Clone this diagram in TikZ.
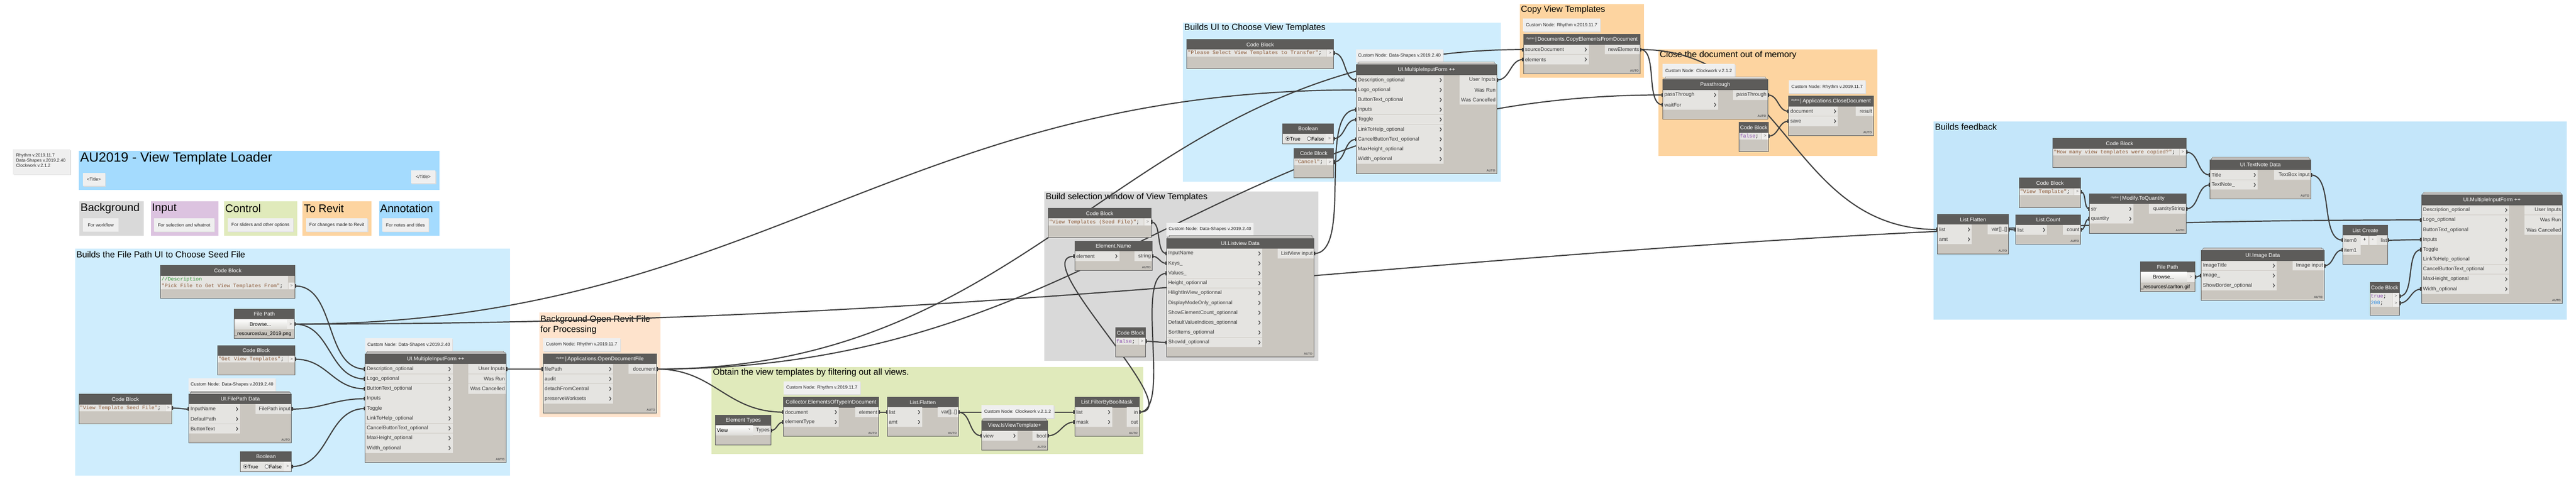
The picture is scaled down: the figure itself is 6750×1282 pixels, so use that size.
\documentclass[tikz,border=0pt]{standalone}
\usepackage{fontspec}
\setmainfont{Liberation Sans}
\setmonofont{Liberation Mono}
\usetikzlibrary{calc}
\definecolor{hdr}{HTML}{5D5C5A}
\definecolor{body}{HTML}{CAC6BF}
\definecolor{row}{HTML}{E5E4E1}
\definecolor{outcell}{HTML}{EDECEA}
\definecolor{rowsep}{HTML}{CFCBC5}
\definecolor{bord}{HTML}{5A5A5A}
\definecolor{wirec}{HTML}{3F3F3F}
\definecolor{notec}{HTML}{EFEFEF}
\definecolor{btnlow}{HTML}{DCDBD7}
\definecolor{gblue}{HTML}{CFEDFD}
\definecolor{gblue2}{HTML}{C4E6FA}
\definecolor{tblue}{HTML}{A4DBFE}
\definecolor{ggray}{HTML}{D9D9D9}
\definecolor{ggreen}{HTML}{E0EABB}
\definecolor{gorange}{HTML}{FDD4A0}
\definecolor{gpeach}{HTML}{FEE3CC}
\definecolor{gpurple}{HTML}{DCC3E0}
\definecolor{strc}{HTML}{8C5B3A}
\definecolor{kwc}{HTML}{8B4FB0}
\definecolor{numc}{HTML}{2E8BE0}
\definecolor{cmtc}{HTML}{2E9A36}
\pgfdeclarelayer{grp}
\pgfdeclarelayer{wires}
\pgfsetlayers{grp,wires,main}
\newcommand\myfs[1]{\fontsize{#1}{#1}\selectfont}
\newcommand\rh{{\myfs{7}\raisebox{4pt}{rhythm}}\,|\,}
\tikzset{
  hdrtext/.style={text=white,font=\myfs{14},inner sep=0},
  lbl/.style={text=black!78,font=\myfs{13.5},inner sep=0},
  autot/.style={text=black!65,font=\myfs{8}\bfseries,inner sep=0},
  codet/.style={font=\ttfamily\myfs{13.6},inner sep=0},
  gtxt/.style={text=black!60,font=\myfs{11},inner sep=0},
  notet/.style={text=black!85,font=\myfs{12},inner sep=0,align=left},
  grpt/.style={text=black,font=\myfs{23},inner sep=0},
  legt/.style={text=black,font=\myfs{29},inner sep=0},
  chev/.style={draw=black!70,line width=1.8},
  wirel/.style={draw=wirec,line width=3},
}
% header + body
\newcommand\dbox[6]{%
  \fill[body] (#2,#3) rectangle (#4,#5);
  \fill[hdr] (#2,#3) rectangle (#4,#3+27);
  \node[hdrtext] (#1) at ({(#2+#4)/2},#3+13.5) {#6};
}
\newcommand\dstack[3]{%
  \draw[draw=black!45,fill=body!60!white,line width=0.8] (#1+6,#2-7) rectangle (#3-6,#2);
  \draw[draw=black!45,fill=body!60!white,line width=0.8] (#1+3,#2-4) rectangle (#3-3,#2);
}
\newcommand\dins[5]{%
  \foreach \lab [count=\i] in {#5} {
    \pgfmathsetmacro\ya{#4+(\i-1)*25.9}
    \fill[row] (#2,\ya) rectangle (#3,\ya+25.9);
    \draw[rowsep,line width=1] (#2,\ya+25.9) -- (#3,\ya+25.9);
    \node[lbl,anchor=west] at (#2+4,\ya+12.95) {\lab};
    \draw[chev] (#3-10,\ya+8) -- (#3-6,\ya+12.95) -- (#3-10,\ya+17.9);
    \coordinate (#1-i\i) at (#2,\ya+12.95);
  }}
\newcommand\douts[5]{%
  \foreach \lab [count=\i] in {#5} {
    \pgfmathsetmacro\ya{#4+(\i-1)*25.9}
    \fill[row] (#2,\ya) rectangle (#3,\ya+25.9);
    \draw[rowsep,line width=1] (#2,\ya+25.9) -- (#3,\ya+25.9);
    \node[lbl,anchor=east] at (#3-3,\ya+12.95) {\lab};
    \coordinate (#1-o\i) at (#3,\ya+12.95);
  }}
\newcommand\dauto[4]{%
  \draw[bord,line width=1.2] (#1,#2) rectangle (#3,#4);
  \node[autot,anchor=south east] at (#3-4,#4-5) {AUTO};
}
\newcommand\dclose[4]{\draw[bord,line width=1.2] (#1,#2) rectangle (#3,#4);}
% code block
\newcommand\dcode[6]{%
  \dbox{#1}{#2}{#3}{#4}{#5}{Code Block}
  \foreach \cl [count=\i] in {#6} {
    \pgfmathsetmacro\ya{#3+27+(\i-1)*18}
    \fill[row] (#2,\ya) rectangle (#4-18,\ya+18);
    \fill[outcell] (#4-18,\ya) rectangle (#4,\ya+18);
    \draw[rowsep,line width=1] (#4-18,\ya) -- (#4-18,\ya+18);
    \node[codet,anchor=west] at (#2+2,\ya+9.4) {\cl};
    \node[gtxt] at (#4-9,\ya+9) {>};
    \coordinate (#1-o\i) at (#4,\ya+9);
  }
  \dclose{#2}{#3}{#4}{#5}
}
% file path
\newcommand\dfile[5]{%
  \dbox{#1}{#2}{#3}{#4}{#3+78}{File Path}
  \shade[top color=white,bottom color=btnlow] (#2,#3+27) rectangle (#4-20,#3+53);
  \fill[outcell] (#4-20,#3+27) rectangle (#4,#3+53);
  \node[lbl,text=black] at ({(#2+#4-20)/2},#3+40) {Browse...};
  \node[gtxt] at (#4-10,#3+40) {>};
  \node[lbl,text=black,anchor=west] at (#2+1,#3+65.5) {#5};
  \dclose{#2}{#3}{#4}{#3+78}
  \coordinate (#1-o1) at (#4,#3+40);
}
% boolean
\newcommand\dbool[4]{%
  \dbox{#1}{#2}{#3}{#4}{#3+53}{Boolean}
  \fill[row] (#2,#3+27) rectangle (#4-20,#3+52);
  \fill[outcell] (#4-20,#3+27) rectangle (#4,#3+52);
  \draw[fill=white,draw=black!80,line width=0.8] (#2+13,#3+39.5) circle[radius=5];
  \fill[black] (#2+13,#3+39.5) circle[radius=2.5];
  \node[lbl,text=black,anchor=west] at (#2+19,#3+40) {True};
  \draw[fill=white,draw=black!80,line width=0.8] (#2+69,#3+39.5) circle[radius=5];
  \node[lbl,text=black,anchor=west] at (#2+75,#3+40) {False};
  \node[gtxt] at (#4-10,#3+39.5) {>};
  \dclose{#2}{#3}{#4}{#3+53}
  \coordinate (#1-o1) at (#4,#3+39.5);
}
% note
\newcommand\dnote[6]{%
  \fill[black!14] (#2+2,#3+2.5) rectangle (#4+2,#5+2.5);
  \fill[notec] (#2,#3) rectangle (#4,#5);
  \node[notet] (#1) at ({(#2+#4)/2},{(#3+#5)/2}) {#6};
}
\newcommand\gtitle[3]{%
  \begin{pgfonlayer}{grp}
  \node[grpt,anchor=west] at (#1,#2) {#3};
  \end{pgfonlayer}}
% wire
\newcommand\wire[2]{%
  \begin{pgfonlayer}{wires}
  \draw[wirel] let \p1=(#1), \p2=(#2),
     \n1={0.4*(abs(\x2-\x1)+0.4*abs(\y2-\y1))} in
     (\p1) .. controls +(\n1,0) and +(-\n1,0) .. (\p2);
  \end{pgfonlayer}
  \fill[wirec] ($(#1)+(0,-5)$) rectangle ($(#1)+(3.5,5)$);
  \fill[wirec] ($(#2)+(-3.5,-5)$) rectangle ($(#2)+(0,5)$);
}
\begin{document}
\begin{tikzpicture}[x=1pt,y=-1pt]
\useasboundingbox (0,0) rectangle (6750,1282);
\begin{pgfonlayer}{grp}
\fill[white] (0,0) rectangle (6750,1282);
\end{pgfonlayer}

% ---------- header area ----------
\fill[black!12] (36,394) rectangle (186,459);
\fill[notec] (34,392) rectangle (184,457);
\node[notet,anchor=north west,font=\myfs{11.5},align=left] (ver) at (42,402) {Rhythm v.2019.11.7\\[2pt]Data-Shapes v.2019.2.40\\[2pt]Clockwork v.2.1.2};

\begin{pgfonlayer}{grp}
\fill[tblue] (207,395) rectangle (1151,498);
\node[text=black,font=\myfs{35},inner sep=0,anchor=west] (ttl) at (210,416) {AU2019 - View Template Loader};
\fill[ggray] (208,528) rectangle (377,618);
\fill[gpurple] (395,528) rectangle (572,618);
\fill[ggreen] (587,528) rectangle (779,618);
\fill[gorange] (793,528) rectangle (974,618);
\fill[tblue] (993,528) rectangle (1151,618);
\node[legt,anchor=west] (l1) at (211,547) {Background};
\node[legt,anchor=west] (l2) at (398,547) {Input};
\node[legt,anchor=west] (l3) at (590,547) {Control};
\node[legt,anchor=west] (l4) at (796,547) {To Revit};
\node[legt,anchor=west] (l5) at (996,547) {Annotation};
\end{pgfonlayer}
\dnote{t1}{217}{453}{275}{487}{<Title>}
\dnote{t2}{1077}{447}{1141}{481}{</Title>}
\dnote{ln1}{218}{573}{310}{607}{For workflow}
\dnote{ln2}{404}{573}{561}{607}{For selection and whatnot}
\dnote{ln3}{597}{573}{768}{607}{For sliders and other options}
\dnote{ln4}{802}{573}{963}{607}{For changes made to Revit}
\dnote{ln5}{1002}{573}{1123}{607}{For notes and titles}

% ---------- groups ----------
\begin{pgfonlayer}{grp}
\fill[gblue] (197,652) rectangle (1337,1247);
\fill[gpeach] (1413,820) rectangle (1731,1093);
\fill[ggreen] (1865,963) rectangle (2996,1191);
\fill[ggray] (2737,502) rectangle (3454,947);
\fill[gblue] (3100,59) rectangle (3933,477);
\fill[gorange] (3982,11) rectangle (4308,204);
\fill[gorange] (4346,130) rectangle (4920,409);
\fill[gblue2] (5067,318) rectangle (6725,838);
\end{pgfonlayer}
\gtitle{200}{667}{Builds the File Path UI to Choose Seed File}
\gtitle{1416}{838}{Background Open Revit File}
\gtitle{1416}{865}{for Processing}
\gtitle{1868}{977}{Obtain the view templates by filtering out all views.}
\gtitle{2740}{517}{Build selection window of View Templates}
\gtitle{3103}{73}{Builds UI to Choose View Templates}
\gtitle{3985}{26}{Copy View Templates}
\gtitle{4349}{145}{Close the document out of memory}
\gtitle{5070}{332}{Builds feedback}

% ---------- group 1 ----------
\dcode{cbdesc}{421}{696}{773}{782}{{\textcolor{cmtc}{//Description}},{\textcolor{strc}{"Pick File to Get View Templates From"};}}
\fill[body] (755,723) rectangle (773,741);
\draw[bord,line width=1.2] (773,696) -- (773,782);
\dfile{fpa}{613}{810}{772}{\_resources\textbackslash au\_2019.png}
\dcode{cbget}{570}{906}{773}{983}{{\textcolor{strc}{"Get View Templates"};}}
\dnote{n1}{957}{887}{1185}{922}{Custom Node: Data-Shapes v.2019.2.40}
\dstack{957}{928}{1326}
\dbox{mifa}{957}{928}{1326}{1213}{UI.MultipleInputForm ++}
\dins{mifa}{957}{1186}{955}{Description\_optional,Logo\_optional,ButtonText\_optional,Inputs,Toggle,LinkToHelp\_optional,CancelButtonText\_optional,MaxHeight\_optional,Width\_optional}
\douts{mifa}{1227}{1326}{955}{User Inputs,Was Run,Was Cancelled}
\dauto{957}{928}{1326}{1213}
\dcode{cbseed}{207}{1034}{450}{1111}{{\textcolor{strc}{"View Template Seed File"};}}
\dnote{n2}{494}{992}{722}{1026}{Custom Node: Data-Shapes v.2019.2.40}
\dstack{495}{1033}{764}
\dbox{fpd}{495}{1033}{764}{1162}{UI.FilePath Data}
\dins{fpd}{495}{629}{1060}{InputName,DefaulPath,ButtonText}
\douts{fpd}{670}{764}{1060}{FilePath input}
\dauto{495}{1033}{764}{1162}
\dbool{boola}{630}{1184}{764}

% ---------- group 2 ----------
\dnote{n3}{1423}{887}{1625}{921}{Custom Node: Rhythm v.2019.11.7}
\dbox{odf}{1423}{928}{1721}{1083}{\rh Applications.OpenDocumentFile}
\dins{odf}{1423}{1607}{955}{filePath,audit,detachFromCentral,preserveWorksets}
\douts{odf}{1647}{1721}{955}{document}
\dauto{1423}{928}{1721}{1083}

% ---------- group 3 ----------
\dnote{n4}{2053}{1000}{2254}{1034}{Custom Node: Rhythm v.2019.11.7}
\dbox{coll}{2053}{1042}{2302}{1144}{Collector.ElementsOfTypeInDocument}
\dins{coll}{2053}{2198}{1068}{document,elementType}
\douts{coll}{2241}{2302}{1068}{element}
\dauto{2053}{1042}{2302}{1144}
\dbox{etypes}{1875}{1089}{2020}{1167}{Element Types}
\shade[top color=white,bottom color=btnlow] (1875,1116) rectangle (1973,1141);
\node[lbl,text=black,anchor=west] at (1878,1129) {View};
\node[gtxt,font=\myfs{8}] at (1964,1126) {v};
\fill[row] (1973,1116) rectangle (2020,1141);
\node[lbl,anchor=east] at (2017,1129) {Types};
\coordinate (etypes-o1) at (2020,1129);
\dclose{1875}{1089}{2020}{1167}
\dbox{flata}{2325}{1042}{2511}{1144}{List.Flatten}
\dins{flata}{2325}{2416}{1068}{list,amt}
\douts{flata}{2457}{2511}{1068}{{var[]..[]}}
\dauto{2325}{1042}{2511}{1144}
\dnote{n5}{2572}{1062}{2761}{1096}{Custom Node: Clockwork v.2.1.2}
\dstack{2572}{1103}{2745}
\dbox{isvt}{2572}{1103}{2745}{1180}{View.IsViewTemplate+}
\dins{isvt}{2572}{2666}{1130}{view}
\douts{isvt}{2706}{2745}{1130}{bool}
\dauto{2572}{1103}{2745}{1180}
\dbox{fbm}{2816}{1042}{2985}{1144}{List.FilterByBoolMask}
\dins{fbm}{2816}{2914}{1068}{list,mask}
\douts{fbm}{2953}{2985}{1068}{in,out}
\dauto{2816}{1042}{2985}{1144}

% ---------- group 4 ----------
\dcode{cbvt}{2747}{546}{3016}{623}{{\textcolor{strc}{"View Templates (Seed File)"};}}
\dnote{n6}{3056}{584}{3285}{618}{Custom Node: Data-Shapes v.2019.2.40}
\dstack{3057}{625}{3443}
\dbox{lvd}{3057}{625}{3443}{936}{UI.Listview Data}
\dins{lvd}{3057}{3308}{652}{InputName,Keys\_,Values\_,Height\_optionnal,HilightInView\_optionnal,DisplayModeOnly\_optionnal,ShowElementCount\_optionnal,DefaultValueIndices\_optionnal,SortItems\_optionnal,ShowId\_optionnal}
\douts{lvd}{3348}{3443}{652}{ListView input}
\dauto{3057}{625}{3443}{936}
\dbox{ename}{2816}{632}{3019}{709}{Element.Name}
\dins{ename}{2816}{2933}{659}{element}
\douts{ename}{2973}{3019}{659}{string}
\dauto{2816}{632}{3019}{709}
\dcode{cbfa}{2923}{859}{3002}{936}{{\textcolor{kwc}{false};}}

% ---------- group 5 ----------
\dcode{cbsel}{3110}{103}{3494}{180}{{\textcolor{strc}{"Please Select View Templates to Transfer"};}}
\dnote{n7}{3553}{130}{3781}{163}{Custom Node: Data-Shapes v.2019.2.40}
\dstack{3554}{170}{3922}
\dbox{mifb}{3554}{170}{3922}{455}{UI.MultipleInputForm ++}
\dins{mifb}{3554}{3783}{197}{Description\_optional,Logo\_optional,ButtonText\_optional,Inputs,Toggle,LinkToHelp\_optional,CancelButtonText\_optional,MaxHeight\_optional,Width\_optional}
\douts{mifb}{3824}{3922}{197}{User Inputs,Was Run,Was Cancelled}
\dauto{3554}{170}{3922}{455}
\dbool{boolb}{3361}{324}{3494}
\dcode{cbcan}{3391}{389}{3494}{466}{{\textcolor{strc}{"Cancel"};}}

% ---------- group 6 / 7 ----------
\dnote{n8}{3991}{49}{4193}{83}{Custom Node: Rhythm v.2019.11.7}
\dbox{copy}{3992}{90}{4298}{194}{\rh Documents.CopyElementsFromDocument}
\dins{copy}{3992}{4163}{117}{sourceDocument,elements}
\douts{copy}{4205}{4298}{117}{newElements}
\dauto{3992}{90}{4298}{194}
\dnote{n9}{4356}{168}{4546}{202}{Custom Node: Clockwork v.2.1.2}
\dstack{4357}{209}{4632}
\dbox{pass}{4357}{209}{4632}{312}{Passthrough}
\dins{pass}{4357}{4502}{236}{passThrough,waitFor}
\douts{pass}{4542}{4632}{236}{passThrough}
\dauto{4357}{209}{4632}{312}
\dnote{n10}{4687}{211}{4888}{245}{Custom Node: Rhythm v.2019.11.7}
\dbox{close}{4687}{252}{4909}{355}{\rh Applications.CloseDocument}
\dins{close}{4687}{4816}{279}{document,save}
\douts{close}{4863}{4909}{279}{result}
\dauto{4687}{252}{4909}{355}
\dcode{cbfb}{4557}{321}{4634}{398}{{\textcolor{kwc}{false};}}

% ---------- group 8 ----------
\dcode{cbhow}{5379}{363}{5729}{440}{{\textcolor{strc}{"How many view templates were copied?"};}}
\dstack{5791}{419}{6055}
\dbox{tnd}{5791}{419}{6055}{522}{UI.TextNote Data}
\dins{tnd}{5791}{5916}{446}{Title,TextNote\_}
\douts{tnd}{5959}{6055}{446}{TextBox input}
\dauto{5791}{419}{6055}{522}
\dcode{cbvtq}{5291}{467}{5452}{544}{{\textcolor{strc}{"View Template"};}}
\dbox{toq}{5475}{508}{5728}{612}{\rh Modify.ToQuantity}
\dins{toq}{5475}{5590}{535}{str,quantity}
\douts{toq}{5631}{5728}{535}{quantityString}
\dauto{5475}{508}{5728}{612}
\dbox{flatb}{5077}{562}{5263}{666}{List.Flatten}
\dins{flatb}{5077}{5167}{589}{list,amt}
\douts{flatb}{5208}{5263}{589}{{var[]..[]}}
\dauto{5077}{562}{5263}{666}
\dbox{cnt}{5282}{563}{5452}{640}{List.Count}
\dins{cnt}{5282}{5364}{590}{list}
\douts{cnt}{5405}{5452}{590}{count}
\dauto{5282}{563}{5452}{640}
\dfile{fpb}{5608}{687}{5751}{\_resources\textbackslash carlton.gif}
\dstack{5768}{657}{6090}
\dbox{imgd}{5768}{657}{6090}{787}{UI.Image Data}
\dins{imgd}{5768}{5966}{684}{ImageTitle,Image\_,ShowBorder\_optional}
\douts{imgd}{6007}{6090}{684}{Image input}
\dauto{5768}{657}{6090}{787}
\dbox{lc}{6139}{591}{6257}{693}{List Create}
\fill[row] (6139,617) rectangle (6185,643);
\node[lbl,anchor=west] at (6142,630) {item0};
\fill[outcell] (6186,618) rectangle (6206,642);
\node[lbl,text=black] at (6196,629) {+};
\fill[outcell] (6208,618) rectangle (6227,642);
\node[lbl,text=black] at (6217.5,629) {-};
\fill[row] (6228,617) rectangle (6257,643);
\node[lbl,anchor=east] at (6255,630) {list};
\fill[row] (6139,643) rectangle (6185,668);
\node[lbl,anchor=west] at (6142,655.5) {item1};
\coordinate (lc-i1) at (6139,630);
\coordinate (lc-i2) at (6139,655.5);
\coordinate (lc-o1) at (6257,630);
\dclose{6139}{591}{6257}{693}
\dcode{cbtf}{6210}{741}{6287}{827}{{\textcolor{kwc}{true};},{\textcolor{numc}{200};}}
\dstack{6345}{511}{6714}
\dbox{mifc}{6345}{511}{6714}{796}{UI.MultipleInputForm ++}
\dins{mifc}{6345}{6575}{538}{Description\_optional,Logo\_optional,ButtonText\_optional,Inputs,Toggle,LinkToHelp\_optional,CancelButtonText\_optional,MaxHeight\_optional,Width\_optional}
\douts{mifc}{6615}{6714}{538}{User Inputs,Was Run,Was Cancelled}
\dauto{6345}{511}{6714}{796}

% ---------- wires ----------
\wire{cbdesc-o2}{mifa-i1}
\wire{fpa-o1}{mifa-i2}
\wire{cbget-o1}{mifa-i3}
\wire{fpd-o1}{mifa-i4}
\wire{boola-o1}{mifa-i5}
\wire{cbseed-o1}{fpd-i1}
\wire{mifa-o1}{odf-i1}
\wire{odf-o1}{coll-i1}
\wire{etypes-o1}{coll-i2}
\wire{coll-o1}{flata-i1}
\wire{flata-o1}{fbm-i1}
\wire{flata-o1}{isvt-i1}
\wire{isvt-o1}{fbm-i2}
\wire{cbvt-o1}{lvd-i1}
\wire{ename-o1}{lvd-i2}
\wire{fbm-o1}{lvd-i3}
\wire{fbm-o1}{ename-i1}
\wire{cbfa-o1}{lvd-i10}
\wire{cbsel-o1}{mifb-i1}
\wire{fpa-o1}{mifb-i2}
\wire{lvd-o1}{mifb-i4}
\wire{boolb-o1}{mifb-i5}
\wire{cbcan-o1}{mifb-i7}
\wire{odf-o1}{copy-i1}
\wire{mifb-o1}{copy-i2}
\wire{odf-o1}{pass-i1}
\wire{copy-o1}{pass-i2}
\wire{pass-o1}{close-i1}
\wire{cbfb-o1}{close-i2}
\wire{copy-o1}{flatb-i1}
\wire{flatb-o1}{cnt-i1}
\wire{cnt-o1}{toq-i2}
\wire{cbvtq-o1}{toq-i1}
\wire{cbhow-o1}{tnd-i1}
\wire{toq-o1}{tnd-i2}
\wire{tnd-o1}{lc-i1}
\wire{fpb-o1}{imgd-i2}
\wire{imgd-o1}{lc-i2}
\wire{lc-o1}{mifc-i4}
\wire{cbtf-o1}{mifc-i5}
\wire{cbtf-o2}{mifc-i9}
\wire{fpa-o1}{mifc-i2}
\end{tikzpicture}
\end{document}
